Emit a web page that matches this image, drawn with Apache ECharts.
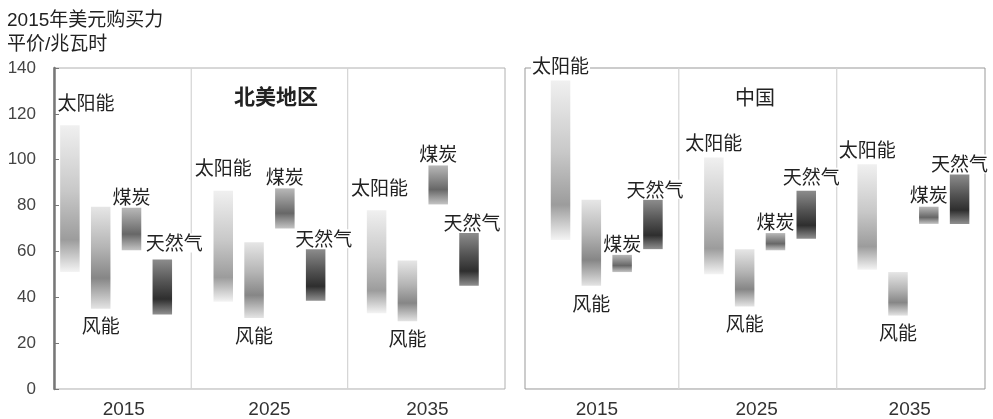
<!DOCTYPE html>
<html><head><meta charset="utf-8">
<script src="https://cdn.jsdelivr.net/npm/echarts@6/dist/echarts.min.js"></script>
<style>html,body{margin:0;padding:0;background:#fff}#c{width:993px;height:419px}</style>
</head><body><div id="c"></div>
<script>
// ---------- data ----------
const years = ['2015', '2025', '2035'];
const energyTypes = ['太阳能', '风能', '煤炭', '天然气'];
const yTicks = [0, 20, 40, 60, 80, 100, 120, 140];
const regionNames = ['北美地区', '中国'];
const chartTitle = '2015年美元购买力\n平价/兆瓦时';
// year-group boundaries (in year-index units)
const naDividers = [0.49, 1.51];
const cnDividers = [0.47, 1.5];

// North America: low / high per year
const naSolarLow  = [51, 38, 33];
const naSolarHigh = [115, 86.5, 78];
const naWindLow   = [35, 31, 29.5];
const naWindHigh  = [79.5, 64, 56];
const naCoalLow   = [60.5, 70, 80.5];
const naCoalHigh  = [79, 87.5, 97.5];
const naGasLow    = [32.5, 38.5, 45];
const naGasHigh   = [56.5, 61, 68];

// China: low / high per year
const cnSolarLow  = [65, 50, 52];
const cnSolarHigh = [134.5, 101, 98];
const cnWindLow   = [45, 36, 32];
const cnWindHigh  = [82.5, 61, 51];
const cnCoalLow   = [51, 60.5, 72];
const cnCoalHigh  = [58.5, 68, 79.5];
const cnGasLow    = [61, 65.5, 72];
const cnGasHigh   = [82.5, 86.5, 93.5];

// ---------- styling ----------
const FONT = "'Liberation Sans', 'Noto Sans CJK SC', sans-serif";
const CJK = "'Noto Sans CJK SC', sans-serif";
const BAR_W = 19.5, PITCH = 30.8;
const G = echarts.graphic.LinearGradient;
const gradients = [
  () => new G(0, 0, 0, 1, [{offset: 0, color: '#f0f0f0'}, {offset: 0.45, color: '#c8c8c8'}, {offset: 0.78, color: '#9c9c9c'}, {offset: 1, color: '#f4f4f4'}]),
  () => new G(0, 0, 0, 1, [{offset: 0, color: '#e6e6e6'}, {offset: 0.4, color: '#b4b4b4'}, {offset: 0.7, color: '#868686'}, {offset: 1, color: '#e4e4e4'}]),
  () => new G(0, 0, 0, 1, [{offset: 0, color: '#b8b8b8'}, {offset: 0.62, color: '#676767'}, {offset: 1, color: '#c4c4c4'}]),
  () => new G(0, 0, 0, 1, [{offset: 0, color: '#8c8c8c'}, {offset: 0.4, color: '#555'}, {offset: 0.72, color: '#2e2e2e'}, {offset: 1, color: '#909090'}])
];
// label placement per energy type: [position, distance]
const labelRule = [['top', 13], ['bottom', 8], ['top', 2], ['top', 1]];
const cnSolarDistance = 5;
// small label nudges [panel, year, type] -> [dx, dy]
const labelNudge = {
  '0-0-0': [16, 0], '0-2-0': [3, 0], '0-0-3': [12, -6], '0-1-3': [8, 0], '0-2-3': [3, 0],
  '1-1-3': [5, -3], '1-0-3': [2, 0]
};

const panels = [
  {lows: [naSolarLow, naWindLow, naCoalLow, naGasLow], highs: [naSolarHigh, naWindHigh, naCoalHigh, naGasHigh], dividers: naDividers},
  {lows: [cnSolarLow, cnWindLow, cnCoalLow, cnGasLow], highs: [cnSolarHigh, cnWindHigh, cnCoalHigh, cnGasHigh], dividers: cnDividers}
];

function makeRangeSeries(p, k) {
  const lows = panels[p].lows[k], highs = panels[p].highs[k];
  return {
    type: 'custom', xAxisIndex: p, yAxisIndex: p, z: 3, silent: true,
    data: years.map((y, i) => [i, lows[i], highs[i]]),
    renderItem: function (params, api) {
      const gi = api.value(0);
      const top = api.coord([gi, api.value(2)]);
      const bot = api.coord([gi, api.value(1)]);
      const cx = top[0] + (k - 1.5) * PITCH;
      const rule = labelRule[k];
      const dist = (p === 1 && k === 0) ? cnSolarDistance : rule[1];
      const nudge = labelNudge[p + '-' + gi + '-' + k] || [0, 0];
      return {
        type: 'rect',
        shape: {x: cx - BAR_W / 2, y: top[1], width: BAR_W, height: bot[1] - top[1]},
        style: {fill: gradients[k]()},
        textContent: {
          type: 'text',
          style: {text: energyTypes[k], fontSize: 19, fontFamily: CJK, fill: '#222',
                  backgroundColor: '#fff', padding: [0, 1]}
        },
        textConfig: {position: rule[0], distance: dist, offset: nudge}
      };
    }
  };
}

function makeDividerSeries(p) {
  return {
    type: 'custom', xAxisIndex: p, yAxisIndex: p, z: 1, silent: true,
    data: panels[p].dividers.map(v => [v]),
    renderItem: function (params, api) {
      const a = api.coord([api.value(0), yTicks[0]]);
      const b = api.coord([api.value(0), yTicks[yTicks.length - 1]]);
      return {type: 'line', shape: {x1: a[0], y1: a[1], x2: b[0], y2: b[1]},
              style: {stroke: '#d4d4d4', lineWidth: 1.2}};
    }
  };
}

const series = [makeDividerSeries(0), makeDividerSeries(1)];
for (let p = 0; p < 2; p++) for (let k = 0; k < 4; k++) series.push(makeRangeSeries(p, k));

function xAxisFor(p, min, max, labelAt) {
  return {
    type: 'value', gridIndex: p, min: min, max: max,
    axisLine: {show: false}, axisTick: {show: false}, splitLine: {show: false},
    axisLabel: {customValues: labelAt, formatter: v => years[Math.round(v)],
                fontSize: 19, color: '#333', fontFamily: FONT, margin: 11}
  };
}

const chart = echarts.init(document.getElementById('c'), null, {renderer: 'canvas'});
chart.setOption({
  animation: false,
  backgroundColor: '#fff',
  title: [
    {text: chartTitle, left: 7, top: 9, padding: 0,
     textStyle: {fontSize: 19, lineHeight: 24, fontWeight: 'normal', color: '#222', fontFamily: FONT}},
    {text: regionNames[0], left: 234, top: 86, padding: 0,
     textStyle: {fontSize: 21, fontWeight: 'bold', color: '#222', fontFamily: CJK}},
    {text: regionNames[1], left: 735, top: 87, padding: 0,
     textStyle: {fontSize: 20, fontWeight: 'normal', color: '#222', fontFamily: CJK}}
  ],
  grid: [
    {left: 54, top: 68, width: 451, height: 322, show: true, borderColor: '#b0b0b0', borderWidth: 1},
    {left: 525, top: 68, width: 460, height: 322, show: true, borderColor: '#999', borderWidth: 1}
  ],
  xAxis: [
    xAxisFor(0, -0.405, 2.536, [0.05, 1, 2.03]),
    xAxisFor(1, -0.533, 2.467, [-0.064, 0.978, 1.976])
  ],
  yAxis: [
    {type: 'value', gridIndex: 0, min: yTicks[0], max: yTicks[yTicks.length - 1], interval: yTicks[1] - yTicks[0],
     axisLine: {show: true, onZero: false, lineStyle: {color: '#777', width: 2.5}},
     axisTick: {show: true, inside: true, length: 5, lineStyle: {color: '#777', width: 1}},
     axisLabel: {fontSize: 17, color: '#444', fontFamily: FONT, margin: 18},
     splitLine: {show: false}},
    {type: 'value', gridIndex: 1, min: yTicks[0], max: yTicks[yTicks.length - 1], show: false}
  ],
  series: series
});
</script></body></html>
